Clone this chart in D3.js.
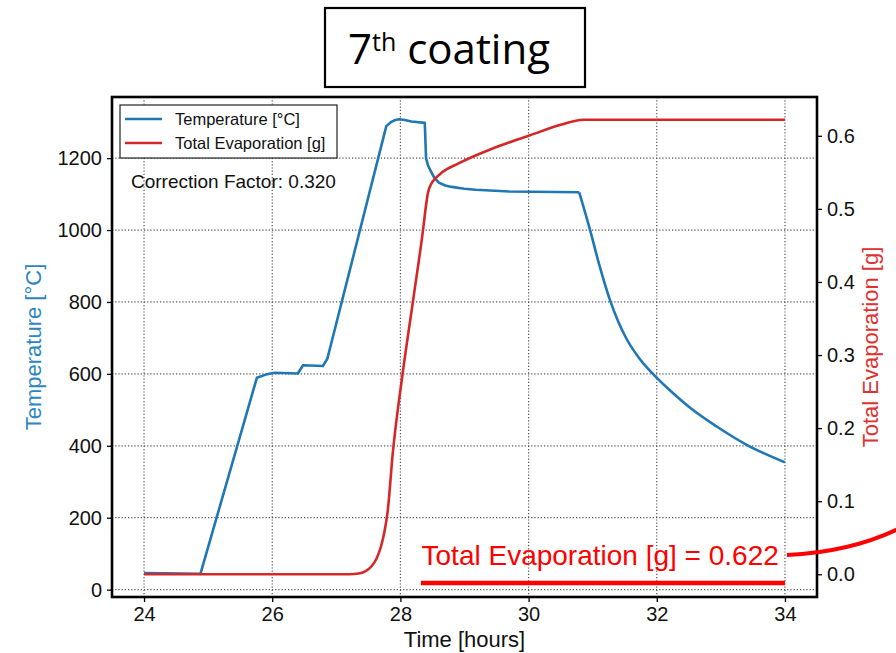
<!DOCTYPE html>
<html>
<head>
<meta charset="utf-8">
<script src="https://cdn.jsdelivr.net/npm/d3@7"></script>
<style>
  html, body { margin: 0; padding: 0; background: #fff; }
  svg { display: block; font-family: "Liberation Sans", Arial, Helvetica, sans-serif; }
</style>
</head>
<body>
<div id="chart"></div>
<script>
// --- data ---
const tempTime = [24.0, 24.88, 25.76, 25.9, 26.04, 26.4, 26.48, 26.79, 26.86, 27.78, 27.85, 27.92, 27.98, 28.07, 28.17, 28.38,
  28.39, 28.4, 28.43, 28.47, 28.53, 28.6, 28.7, 28.8, 29.0, 29.17, 29.7, 30.79,
  30.96, 31.1, 31.27, 31.4, 31.53, 31.72, 31.94, 32.2, 32.56, 32.94, 33.41, 34.0];
const tempC = [46, 44, 589, 598, 603, 601, 624, 622, 642, 1289, 1300, 1306, 1308, 1306, 1302, 1298,
  1250, 1200, 1180, 1165, 1145, 1132, 1124, 1120, 1115, 1112, 1107, 1105,
  1000, 905, 805, 745, 697, 645, 600, 555, 500, 453, 402, 354];
// the cooling tail starts at this index and is drawn as a smooth curve
const coolStart = 27;

const evapTime = [24.0, 27.2, 27.35, 27.45, 27.55, 27.63, 27.7, 27.75, 27.8, 27.88, 28.04, 28.2, 28.36, 28.4, 28.43,
  28.48, 28.55, 28.65, 28.9, 29.42, 30.0, 30.5, 30.7, 30.85, 34.0];
const evapG = [0, 0, 0.001, 0.004, 0.011, 0.022, 0.039, 0.058, 0.085, 0.165, 0.278, 0.376, 0.476, 0.505, 0.522,
  0.534, 0.542, 0.55, 0.562, 0.582, 0.600, 0.615, 0.620, 0.622, 0.622];

const timeTicks = [24, 26, 28, 30, 32, 34];
const tempTicks = [0, 200, 400, 600, 800, 1000, 1200];
const evapTicks = [0.0, 0.1, 0.2, 0.3, 0.4, 0.5, 0.6];

const correctionFactor = "0.320";
const totalEvap = "0.622";

const width = 896, height = 653;
const plot = { left: 112, right: 817, top: 97, bottom: 597 };
const blue = "#1f77b4", red = "#d62728";

const svg = d3.select("#chart").append("svg")
  .attr("width", width)
  .attr("height", height);

const x = d3.scaleLinear().domain([23.5, 34.5]).range([plot.left, plot.right]);
const yT = d3.scaleLinear().domain([-20.5, 1370]).range([plot.bottom, plot.top]);
const yE = d3.scaleLinear().domain([-0.0311, 0.6531]).range([plot.bottom, plot.top]);

// --- grid (dotted) ---
const grid = svg.append("g")
  .attr("stroke", "#555")
  .attr("stroke-width", 1.2)
  .attr("stroke-dasharray", "1.2,2");
grid.selectAll("line.gx").data(timeTicks).join("line")
  .attr("x1", d => x(d)).attr("x2", d => x(d))
  .attr("y1", plot.top).attr("y2", plot.bottom);
grid.selectAll("line.gy").data(tempTicks).join("line")
  .attr("x1", plot.left).attr("x2", plot.right)
  .attr("y1", d => yT(d)).attr("y2", d => yT(d));

// --- lines ---
const tempLine = d3.line()
  .x(i => x(tempTime[i]))
  .y(i => yT(tempC[i]));
const evapLine = d3.line()
  .x(i => x(evapTime[i]))
  .y(i => yE(evapG[i]))
  .curve(d3.curveMonotoneX);

const tempPaths = [
  tempLine.curve(d3.curveLinear)(d3.range(0, coolStart + 1)),
  tempLine.curve(d3.curveMonotoneX)(d3.range(coolStart, tempTime.length))
];
svg.selectAll("path.temp").data(tempPaths).join("path")
  .attr("class", "temp")
  .attr("d", d => d)
  .attr("fill", "none").attr("stroke", blue).attr("stroke-width", 2.6)
  .attr("stroke-linejoin", "round");
svg.append("path")
  .attr("d", evapLine(d3.range(evapTime.length)))
  .attr("fill", "none").attr("stroke", red).attr("stroke-width", 2.6)
  .attr("stroke-linejoin", "round");

// --- axes ---
const fmtE = d3.format(".1f");
const axisLeft = svg.append("g")
  .attr("transform", `translate(${plot.left},0)`)
  .call(d3.axisLeft(yT).tickValues(tempTicks).tickFormat(d3.format("d")).tickSize(5).tickPadding(5));
const axisRight = svg.append("g")
  .attr("transform", `translate(${plot.right},0)`)
  .call(d3.axisRight(yE).tickValues(evapTicks).tickFormat(fmtE).tickSize(5).tickPadding(5));
const axisBottom = svg.append("g")
  .attr("transform", `translate(0,${plot.bottom})`)
  .call(d3.axisBottom(x).tickValues(timeTicks).tickSize(5).tickPadding(5));

[axisLeft, axisRight, axisBottom].forEach(g => {
  g.select(".domain").remove();
  g.selectAll(".tick line").attr("stroke", "#000").attr("stroke-width", 1.3);
  g.selectAll(".tick text").attr("fill", "#111")
    .style("font-size", "20px")
    .style("font-family", "'Liberation Sans', Arial, sans-serif");
});

// frame
svg.append("rect")
  .attr("x", plot.left).attr("y", plot.top)
  .attr("width", plot.right - plot.left).attr("height", plot.bottom - plot.top)
  .attr("fill", "none").attr("stroke", "#000").attr("stroke-width", 2.6);

// axis labels
svg.append("text")
  .attr("transform", `translate(35,${(plot.top + plot.bottom) / 2}) rotate(-90)`)
  .attr("text-anchor", "middle")
  .attr("dominant-baseline", "middle")
  .attr("fill", "#2c86c4")
  .style("font-size", "22px")
  .text("Temperature [°C]");
svg.append("text")
  .attr("transform", `translate(872,${(plot.top + plot.bottom) / 2}) rotate(-90)`)
  .attr("text-anchor", "middle")
  .attr("dominant-baseline", "middle")
  .attr("fill", "#e03030")
  .style("font-size", "22px")
  .text("Total Evaporation [g]");
svg.append("text")
  .attr("x", (plot.left + plot.right) / 2)
  .attr("y", 647)
  .attr("text-anchor", "middle")
  .attr("fill", "#111")
  .style("font-size", "22px")
  .text("Time [hours]");

// --- legend ---
const legend = svg.append("g").attr("transform", "translate(120,105)");
legend.append("rect")
  .attr("width", 217).attr("height", 53)
  .attr("fill", "#fff").attr("stroke", "#222").attr("stroke-width", 1.2);
const legendItems = [
  { label: "Temperature [°C]", color: blue },
  { label: "Total Evaporation [g]", color: red }
];
legendItems.forEach((d, i) => {
  const yy = 14 + i * 24;
  legend.append("line")
    .attr("x1", 5).attr("x2", 42).attr("y1", yy).attr("y2", yy)
    .attr("stroke", d.color).attr("stroke-width", 2.6);
  legend.append("text")
    .attr("x", 55).attr("y", yy + 6)
    .attr("fill", "#111")
    .style("font-size", "16.5px")
    .text(d.label);
});

svg.append("text")
  .attr("x", 131).attr("y", 188)
  .attr("fill", "#111")
  .style("font-size", "19px")
  .text(`Correction Factor: ${correctionFactor}`);

// --- title box ---
svg.append("rect")
  .attr("x", 325).attr("y", 8).attr("width", 260).attr("height", 79)
  .attr("fill", "#fff").attr("stroke", "#000").attr("stroke-width", 2.2);
const title = svg.append("text")
  .attr("x", 348).attr("y", 64)
  .attr("fill", "#000")
  .style("font-family", "'Open Sans', 'Noto Sans', sans-serif");
title.append("tspan").style("font-size", "42px").text("7");
title.append("tspan").attr("dy", -13).style("font-size", "25px").text("th");
title.append("tspan").attr("dy", 13).style("font-size", "42px").text(" coating");

// --- annotation ---
svg.append("text")
  .attr("x", x(28.33)).attr("y", 565)
  .attr("fill", "#ff0000")
  .style("font-size", "28px")
  .text(`Total Evaporation [g] = ${totalEvap}`);
svg.append("line")
  .attr("x1", x(28.32)).attr("x2", x(34))
  .attr("y1", 583).attr("y2", 583)
  .attr("stroke", "#ff0000").attr("stroke-width", 4.5);
svg.append("path")
  .attr("d", `M${x(34) + 2},555 Q850,552 ${width + 2},529`)
  .attr("fill", "none").attr("stroke", "#ff0000").attr("stroke-width", 4);
</script>
</body>
</html>
